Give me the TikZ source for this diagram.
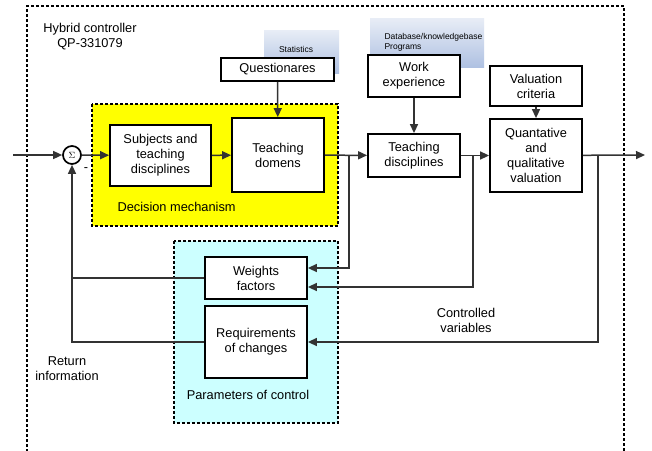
\documentclass[tikz,border=0pt]{standalone}
\usepackage{fontspec}
\setmainfont{Liberation Sans}
\usetikzlibrary{arrows.meta}
\definecolor{lnc}{HTML}{333333}
\definecolor{padyellow}{HTML}{FFFF00}
\definecolor{padcyan}{HTML}{CCFFFF}
\definecolor{shtop}{HTML}{E8EDF6}
\definecolor{shbot}{HTML}{AFC1E2}
\tikzset{
  txt/.style={font=\fontsize{12.8pt}{15pt}\selectfont, align=center, text=black},
  small/.style={font=\fontsize{8.5pt}{10pt}\selectfont, text=black},
  blk/.style={txt, draw=black, line width=1.8pt, fill=white, inner sep=0pt},
  ln/.style={draw=lnc, line width=1.5pt},
  arr/.style={ln, -{Triangle[length=9pt,width=8pt]}},
  frame/.style={draw=black, line width=1.7pt, dash pattern=on 3pt off 2pt},
  shadebox/.style={top color=shtop, bottom color=shbot, draw=none},
}
\begin{document}
\begin{tikzpicture}[x=1pt,y=-1pt]
\useasboundingbox (0,0) rectangle (652,450);
\fill[white] (0,0) rectangle (652,450);

% outer controller frame (open at the bottom)
\draw[frame] (27,452) -- (27,6) -- (624,6) -- (624,452);
\node[txt] (title) at (90,37) {Hybrid controller\\QP-331079};

% shaded source panels
\path[shadebox] (264,30) rectangle (339,73);
\node[small] (stat) at (296,49) {Statistics};
\path[shadebox] (370,18) rectangle (484,67);
\node[small, align=left, anchor=west] (dbase) at (381,42) {Database/knowledgebase\\Programs};

% highlighted regions
\draw[frame, fill=padyellow] (92,104) rectangle (338,226);
\node[txt, anchor=west] (decm) at (114,207) {Decision mechanism};
\draw[frame, fill=padcyan] (174,241) rectangle (338,423);
\node[txt] (parc) at (248,395) {Parameters of control};

% blocks
\node[blk, minimum width=113pt, minimum height=23pt] (qst) at (277.5,69.5) {Questionares};
\node[blk, minimum width=92pt, minimum height=42pt] (work) at (414,76) {Work\\experience};
\node[blk, minimum width=92pt, minimum height=40pt] (valc) at (536,86) {Valuation\\criteria};
\node[blk, minimum width=101pt, minimum height=61pt] (subj) at (160.5,155.5) {Subjects and\\teaching\\disciplines};
\node[blk, minimum width=92pt, minimum height=74pt] (tdom) at (278,155) {Teaching\\domens};
\node[blk, minimum width=92pt, minimum height=43pt] (tdis) at (414,155.5) {Teaching\\disciplines};
\node[blk, minimum width=92pt, minimum height=73pt] (qv) at (536,155.5) {Quantative\\and\\qualitative\\valuation};
\node[blk, minimum width=102pt, minimum height=42pt] (wf) at (256,278) {Weights\\factors};
\node[blk, minimum width=102pt, minimum height=72pt] (req) at (256,342) {Requirements\\of changes};

% summing junction
\node[draw=black, line width=1.7pt, circle, minimum size=18pt, inner sep=0pt, fill=white,
      font=\fontsize{9pt}{10pt}\selectfont] (sum) at (72,155) {$\Sigma$};
\node[txt] (minus) at (86,170) {-};

% labels
\node[txt] (retinfo) at (67,369) {Return\\information};
\node[txt] (ctrlv) at (466,320) {Controlled\\variables};

% forward path
\coordinate (in) at (13,155);
\coordinate (out) at (645,155);
\coordinate (b1) at (349,155);
\coordinate (b2) at (473,155);
\coordinate (b3) at (598,155);
\draw[arr] (in) -- (sum);
\draw[arr] (sum) -- (subj);
\draw[arr] (subj) -- (tdom);
\draw[arr] (tdom) -- (tdis);
\draw[arr] (tdis) -- (qv);
\draw[arr] (qv) -- (out);
\draw[arr] (qst) -- (tdom);
\draw[arr] (work) -- (tdis);
\draw[arr] (valc) -- (qv);

% feedback to the control parameters
\draw[arr] (b1) |- ([yshift=10pt]wf.east);
\draw[arr] (b2) |- ([yshift=-9pt]wf.east);
\draw[arr] (b3) |- (req.east);

% return information to the summing junction
\draw[arr] (req.west) -| (sum.south);
\draw[ln] (wf.west) -- (wf.west -| sum.south);
\end{tikzpicture}
\end{document}
